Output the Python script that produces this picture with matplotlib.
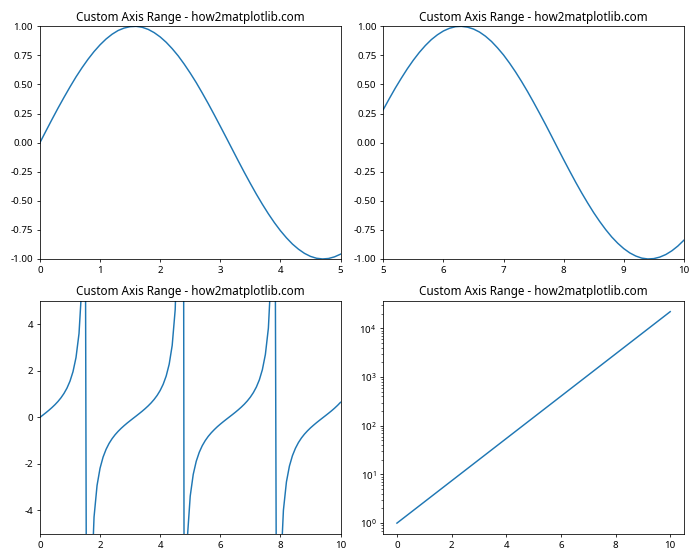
import matplotlib
matplotlib.use("Agg")
import matplotlib.pyplot as plt

plt.rcParams['font.family'] = ['Noto Sans', 'DejaVu Sans']
plt.rcParams['axes.unicode_minus'] = False

# Top-left: sine, read on x = 0 .. 5 (step 0.1)
sin_x = [round(0.1 * i, 1) for i in range(51)]
sin_y = [0.000, 0.100, 0.199, 0.296, 0.389, 0.479, 0.565, 0.644, 0.717, 0.783,
         0.841, 0.891, 0.932, 0.964, 0.985, 0.997, 1.000, 0.992, 0.974, 0.946,
         0.909, 0.863, 0.808, 0.746, 0.675, 0.598, 0.516, 0.427, 0.335, 0.239,
         0.141, 0.042, -0.058, -0.158, -0.256, -0.351, -0.443, -0.530, -0.612, -0.688,
         -0.757, -0.818, -0.872, -0.916, -0.952, -0.978, -0.994, -1.000, -0.996, -0.982,
         -0.959]

# Top-right: cosine, read on x = 5 .. 10 (step 0.1)
cos_x = [round(5 + 0.1 * i, 1) for i in range(51)]
cos_y = [0.284, 0.378, 0.469, 0.554, 0.635, 0.709, 0.776, 0.835, 0.886, 0.927,
         0.960, 0.983, 0.997, 1.000, 0.993, 0.977, 0.951, 0.915, 0.870, 0.815,
         0.754, 0.684, 0.608, 0.526, 0.439, 0.347, 0.252, 0.155, 0.055, -0.046,
         -0.146, -0.244, -0.340, -0.432, -0.519, -0.602, -0.678, -0.748, -0.811, -0.865,
         -0.911, -0.948, -0.975, -0.993, -1.000, -0.997, -0.984, -0.962, -0.930, -0.889,
         -0.839]

# Bottom-left: tangent, x = 0 .. 10 (step 0.1)
tan_x = [round(0.1 * i, 1) for i in range(101)]
tan_y = [0.000, 0.100, 0.203, 0.309, 0.423, 0.546, 0.684, 0.842, 1.030, 1.260,
         1.557, 1.965, 2.572, 3.602, 5.798, 14.10, -34.23, -7.697, -4.286, -2.927,
         -2.185, -1.710, -1.374, -1.119, -0.916, -0.747, -0.602, -0.473, -0.356, -0.246,
         -0.143, -0.042, 0.058, 0.160, 0.264, 0.375, 0.494, 0.625, 0.774, 0.947,
         1.158, 1.424, 1.778, 2.286, 3.096, 4.637, 8.860, 80.70, -11.39, -5.267,
         -3.381, -2.449, -1.886, -1.501, -1.217, -0.996, -0.814, -0.661, -0.527, -0.403,
         -0.291, -0.185, -0.083, 0.017, 0.117, 0.220, 0.328, 0.443, 0.568, 0.709,
         0.871, 1.065, 1.304, 1.616, 2.052, 2.706, 3.838, 6.440, 18.50, -21.70,
         -6.800, -3.990, -2.775, -2.092, -1.646, -1.328, -1.081, -0.884, -0.720, -0.579,
         -0.452, -0.338, -0.229, -0.126, -0.025, 0.075, 0.177, 0.282, 0.394, 0.515,
         0.648]

# Bottom-right: exponential on a log axis
exp_x = [0, 2, 4, 6, 8, 10]
exp_y = [1.0, 7.39, 54.6, 403.4, 2981.0, 22026.0]

title = "Custom Axis Range - how2matplotlib.com"

fig, axs = plt.subplots(2, 2, figsize=(10, 8), dpi=70)

axs[0, 0].plot(sin_x, sin_y)
axs[0, 0].set_xlim(0, 5)
axs[0, 0].set_ylim(-1, 1)
axs[0, 0].set_title(title)

axs[0, 1].plot(cos_x, cos_y)
axs[0, 1].set_xlim(5, 10)
axs[0, 1].set_ylim(-1, 1)
axs[0, 1].set_title(title)

axs[1, 0].plot(tan_x, tan_y)
axs[1, 0].set_xlim(0, 10)
axs[1, 0].set_ylim(-5, 5)
axs[1, 0].set_title(title)

axs[1, 1].plot(exp_x, exp_y)
axs[1, 1].set_yscale('log')
axs[1, 1].set_title(title)

plt.tight_layout()
plt.savefig("out.png", dpi=70)
